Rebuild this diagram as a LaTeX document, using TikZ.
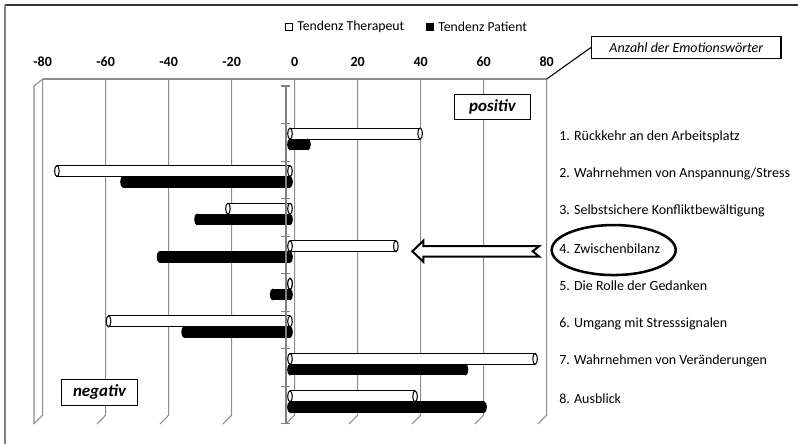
\documentclass[tikz,border=0pt]{standalone}
\usepackage{fontspec}
\setmainfont{Carlito}
\usetikzlibrary{positioning}
\definecolor{gridgray}{HTML}{8C8C8C}
\tikzset{
  lbl/.style={anchor=west,inner sep=0pt,font=\fontsize{10.5}{12}\selectfont},
  tag/.style={draw,line width=1.1pt,fill=white,inner sep=0pt},
  barline/.style={line width=0.8pt},
}
% one 3D bar: value, top y, bottom y, fill
\newcommand{\cylbar}[4]{%
  \pgfmathsetmacro{\xa}{290}\pgfmathsetmacro{\xb}{290+3.15*#1}%
  \pgfmathsetmacro{\ya}{#2}\pgfmathsetmacro{\yb}{#3}%
  \pgfmathsetmacro{\ym}{(\ya+\yb)/2}\pgfmathsetmacro{\ry}{(\yb-\ya)/2}%
  \fill[#4] (\xa,\ya) rectangle (\xb,\yb);
  \draw[barline] (\xa,\ya) -- (\xb,\ya) (\xa,\yb) -- (\xb,\yb);
  \draw[barline,fill=#4] (\xb,\ym) ellipse [x radius=2.3, y radius=\ry];
  \draw[barline,fill=#4] (\xa,\ym) ellipse [x radius=2.3, y radius=\ry];
}
\begin{document}
\begin{tikzpicture}[x=0.75pt,y=-0.75pt]
  \useasboundingbox (0,0) rectangle (798,444);
  \draw[black!80,line width=0.9pt] (5,5) -- (798,5);
  \draw[gray,line width=0.9pt] (5,5) -- (5,444);
  % back wall, side wall, floor edges
  \begin{scope}[gridgray,line width=0.8pt]
    \draw (42.7,79) -- (546.7,79);
    \foreach \v in {-80,-60,...,80}
      \draw ({294.7+3.15*\v},79) -- ({294.7+3.15*\v},415) -- ++(-8.7,9);
    \draw (42.7,79) -- (34,86) -- (34,424);
  \end{scope}
  \foreach \v in {-80,-60,...,80}
    \node[font=\bfseries\fontsize{10.5}{12}\selectfont] (t\v) at ({294.7+3.15*\v},62) {\v};
  \coordinate (ax80) at (546.7,79);

  % legend
  \node[lbl,font=\fontsize{10.3}{12}\selectfont] (legT) at (297,27) {Tendenz Therapeut};
  \node[draw,line width=0.8pt,fill=white,inner sep=0pt,minimum size=5pt,left=3pt of legT] (boxT) {};
  \node[lbl,font=\fontsize{10.3}{12}\selectfont] (legP) at (438,27) {Tendenz Patient};
  \node[draw,line width=0.8pt,fill=black,inner sep=0pt,minimum size=5pt,left=3pt of legP] (boxP) {};

  % bars
  \foreach \k/\t/\p in {1/41.3/5.7,2/-74/-53,3/-19.7/-29.5,4/33.6/-41.4,
                        5/0/-5.5,6/-57.6/-33.6,7/77.8/55.7,8/39.7/61.6}{
    \pgfmathsetmacro{\yt}{86+37.55*\k}
    \cylbar{\t}{\yt+4.5}{\yt+15.5}{white}
    \cylbar{\p}{\yt+15.5}{\yt+26}{black}
  }

  % category axis
  \draw[gray,line width=0.8pt] (286,86) -- (286,424);
  \foreach \j in {0,...,9}
    \draw[gray,line width=0.8pt] (281,{86+37.55*\j}) -- (290,{86+37.55*\j});

  \node[tag,minimum width=57.3pt,minimum height=18.75pt,
        font=\bfseries\itshape\fontsize{12.7}{15}\selectfont] (positiv) at (492.5,106.8) {positiv};
  \node[tag,minimum width=56.7pt,minimum height=19.5pt,
        font=\bfseries\itshape\fontsize{12.7}{15}\selectfont] (negativ) at (99.5,392.3) {negativ};
  \node[tag,minimum width=142pt,minimum height=16.2pt,
        font=\itshape\fontsize{10.5}{12}\selectfont] (anzahl) at (686.3,47.5) {Anzahl der Emotionswörter};
  \draw[line width=0.8pt] (anzahl.west) -- (ax80);

  \foreach \k/\txt in {1/{1. Rückkehr an den Arbeitsplatz},2/{2. Wahrnehmen von Anspannung/Stress},
                       3/{3. Selbstsichere Konfliktbewältigung},4/{4. Zwischenbilanz},
                       5/{5. Die Rolle der Gedanken},6/{6. Umgang mit Stresssignalen},
                       7/{7. Wahrnehmen von Veränderungen},8/{8. Ausblick}}
    \node[lbl] (l\k) at (559,{136.5+37.4*(\k-1)}) {\txt};

  \draw[line width=1.9pt] ([xshift=3pt,yshift=-1pt]l4.center) ellipse [x radius=62, y radius=25];
  \draw[line width=1.5pt,line join=miter,fill=white] (412.3,251.3) -- (423.3,240.7) -- (423.3,246)
    -- (539.3,246) -- (532.7,251.3) -- (539.3,256.7) -- (423.3,256.7) -- (423.3,261.7) -- cycle;
\end{tikzpicture}
\end{document}
